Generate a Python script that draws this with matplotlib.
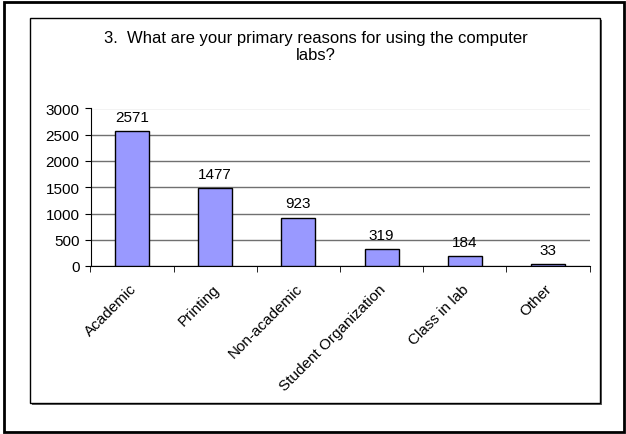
import numpy as np
import matplotlib.pyplot as plt
import matplotlib.transforms as mtransforms
from matplotlib.patches import Rectangle

categories = ["Academic", "Printing", "Non-academic", "Student Organization", "Class in lab", "Other"]
counts = [2571, 1477, 923, 319, 184, 33]
yticks = [0, 500, 1000, 1500, 2000, 2500, 3000]

W, H = 626, 435
plt.rcParams['font.family'] = ['Liberation Sans', 'DejaVu Sans']
fig = plt.figure(figsize=(W / 100, H / 100), dpi=100)


def px(x0, y0, x1, y1):
    # pixel box (top-left origin) -> figure fraction rectangle
    return (x0 / W, 1 - y1 / H, (x1 - x0) / W, (y1 - y0) / H)


# outer frame
x, y, w, h = px(4, 3, 624, 433)
fig.patches.append(Rectangle((x, y), w, h, transform=fig.transFigure, zorder=-3,
                             fill=False, edgecolor="black", linewidth=2))
# chart area with shadow
x, y, w, h = px(32, 21, 602, 406)
fig.patches.append(Rectangle((x, y), w, h, transform=fig.transFigure, zorder=-2,
                             facecolor="#606060", edgecolor="none"))
x, y, w, h = px(30, 19, 600, 404)
fig.patches.append(Rectangle((x, y), w, h, transform=fig.transFigure, zorder=-1,
                             facecolor="white", edgecolor="black", linewidth=1))

fig.text(315.5 / W, 1 - 47 / H,
         "3.  What are your primary reasons for using the computer\nlabs?",
         ha="center", va="center", fontsize=12, linespacing=1.2)

ax = fig.add_axes(px(90.5, 109.5, 589.5, 267))
ax.patch.set_alpha(0)
pos = np.arange(len(categories))
ax.bar(pos, counts, width=0.41, color="#9999FF", edgecolor="black", linewidth=1, zorder=3)
for p, c in zip(pos, counts):
    ax.annotate(str(c), (p, c), xytext=(0, 7.5), textcoords="offset points",
                ha="center", va="baseline", fontsize=11)

ax.set_xlim(-0.5, len(categories) - 0.5)
ax.set_ylim(0, 3000)
ax.set_yticks(yticks)
ax.set_yticklabels([str(t) for t in yticks], fontsize=11)
ax.yaxis.grid(True, color="#707070", linewidth=1, zorder=0)
ax.get_ygridlines()[-1].set_color("#c4c4c4")

ax.set_xticks(pos)
ax.set_xticklabels(categories, rotation=45, ha="right", rotation_mode="anchor", fontsize=11)
ax.tick_params(axis="x", length=0, pad=11)
shift = mtransforms.ScaledTranslation(-3 / 100, 0, fig.dpi_scale_trans)
for lab in ax.get_xticklabels():
    lab.set_transform(lab.get_transform() + shift)
ax.set_xticks(np.arange(len(categories) + 1) - 0.5, minor=True)
ax.tick_params(axis="x", which="minor", length=4, direction="out")
ax.tick_params(axis="y", length=4, direction="out", pad=4)

for s in ["top", "right"]:
    ax.spines[s].set_visible(False)
ax.spines["left"].set_linewidth(0.8)
ax.spines["bottom"].set_linewidth(0.8)

fig.savefig("out.png", dpi=100)
